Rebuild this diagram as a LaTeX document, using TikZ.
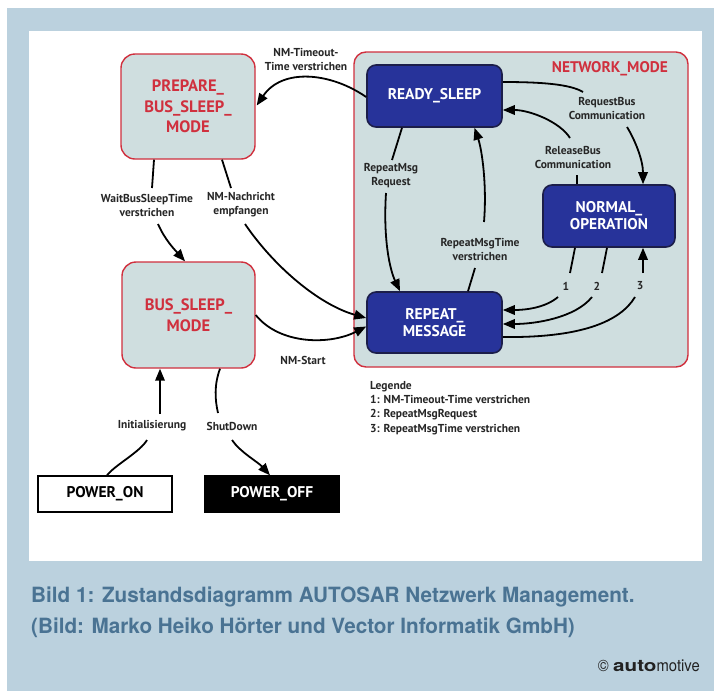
\documentclass[tikz,border=0pt]{standalone}
\usepackage{fontspec}
\usetikzlibrary{arrows.meta,calc}
\setmainfont{PT Sans}
\newfontfamily\capfont{TeX Gyre Heros}[FakeStretch=0.985]
\newfontfamily\brandbold{TeX Gyre Heros}[FakeStretch=1.25]
\newfontfamily\brandlight{TeX Gyre Heros}[FakeStretch=0.9]
\definecolor{frameblue}{HTML}{BBD1DE}
\definecolor{captionblue}{HTML}{4A7393}
\definecolor{statefill}{HTML}{CFDEDF}
\definecolor{statered}{HTML}{D0303E}
\definecolor{navy}{HTML}{27339A}
\definecolor{navyedge}{HTML}{1C1E4A}
\definecolor{brandgrey}{HTML}{222222}
\begin{document}
\begin{tikzpicture}[x=1pt,y=-1pt,
  outerstate/.style={draw=statered, line width=1.4pt, fill=statefill, rounded corners=14pt,
    text=statered, font=\bfseries\fontsize{16.5}{20.5}\selectfont, align=center, inner sep=0pt},
  innerstate/.style={draw=navyedge, line width=1.6pt, fill=navy, rounded corners=9pt,
    text=white, font=\bfseries\fontsize{15.5}{17}\selectfont, align=center, inner sep=0pt,
    minimum width=135pt, minimum height=62pt},
  powerbox/.style={draw=black, line width=1.4pt, minimum width=134pt, minimum height=36pt,
    inner sep=0pt, font=\bfseries\fontsize{15.5}{17}\selectfont},
  trans/.style={line width=1.8pt, draw=black},
  tip/.style={-{Triangle[length=12pt,width=9.5pt]}},
  lbl/.style={font=\bfseries\fontsize{11.5}{14}\selectfont, align=center, inner sep=0pt, text=black!85},
]
% page, frame and white panel
\useasboundingbox (0,0) rectangle (714,691);
\fill[white] (0,0) rectangle (714,691);
\fill[frameblue] (7,8) rectangle (714,691);
\fill[white] (29,31) rectangle (702,561);

% network mode container
\node[draw=statered, line width=1.4pt, fill=statefill, rounded corners=12pt,
      minimum width=334pt, minimum height=315pt, inner sep=0pt] (nm) at (521,209.5) {};
\node[text=statered, font=\bfseries\fontsize{15.4}{17}\selectfont, anchor=east, inner sep=0pt] (nmlabel) at (668,69) {NETWORK\_MODE};

% states
\node[outerstate, minimum width=134pt, minimum height=105pt] (pb) at (188,106.5) {PREPARE\_\\BUS\_SLEEP\_\\MODE};
\node[outerstate, minimum width=133pt, minimum height=106pt] (bs) at (188.5,315) {BUS\_SLEEP\_\\MODE};
\node[innerstate] (rs) at (434.5,96) {READY\_SLEEP};
\node[innerstate, minimum width=132pt] (no) at (609,216) {NORMAL\_\\OPERATION};
\node[innerstate, minimum height=61pt] (rm) at (434.5,322.5) {REPEAT\_\\MESSAGE};
\node[powerbox, fill=white] (pon) at (105,494) {POWER\_ON};
\node[powerbox, fill=black, text=white] (poff) at (272,494) {POWER\_OFF};

% transition labels
\node[lbl] (l1) at (306,59) {NM-Timeout-\\Time verstrichen};
\node[lbl] (l2) at (147,205) {WaitBusSleepTime\\verstrichen};
\node[lbl] (l3) at (241,205) {NM-Nachricht\\empfangen};
\node[lbl] (l4) at (303,360) {NM-Start};
\node[lbl] (l5) at (152,426) {Initialisierung};
\node[lbl] (l6) at (232,426) {ShutDown};
\node[lbl] (l7) at (607,108.5) {RequestBus\\Communication};
\node[lbl] (l8) at (573,157) {ReleaseBus\\Communication};
\node[lbl] (l9) at (391,175.5) {RepeatMsg\\Request};
\node[lbl] (l10) at (480,249) {RepeatMsgTime\\verstrichen};
\node[lbl] (n1) at (566,286) {1};
\node[lbl] (n2) at (597,286) {2};
\node[lbl] (n3) at (640,286) {3};

% break points of the transitions around their labels
\coordinate (c2a) at (152,188);  \coordinate (c2b) at (158,224);
\coordinate (c3a) at (231,188);  \coordinate (c3b) at (245,224);
\coordinate (c5a) at (147,440);  \coordinate (c5b) at (160,414);
\coordinate (c6a) at (218,413);  \coordinate (c6b) at (232,440);
\coordinate (c7a) at (583,92);   \coordinate (c7b) at (627,127);
\coordinate (c8a) at (577,175);  \coordinate (c8b) at (570,138);
\coordinate (c9a) at (392,160);  \coordinate (c9b) at (386,193);
\coordinate (c10a) at (475,268); \coordinate (c10b) at (484,222);
\coordinate (c11a) at (570,273); \coordinate (c11b) at (558,297);
\coordinate (c12a) at (602,273); \coordinate (c12b) at (592,297);
\coordinate (c13a) at (635,297); \coordinate (c13b) at (643,273);

% transitions
\draw[trans,tip] ($(rs.west)+(0,1)$) .. controls (330,72) and (282,68) .. ($(pb.east)+(1,-1)$);
\draw[trans] ($(pb.south)+(-34,0)$) -- (c2a);
\draw[trans,tip] (c2b) .. controls (165,240) and (175,250) .. ($(bs.north)+(-3.5,0)$);
\draw[trans] ($(pb.south)+(34,0)$) -- (c3a);
\draw[trans,tip] (c3b) .. controls (275,268) and (320,305) .. ($(rm.west)+(0,-4.5)$);
\draw[trans,tip] ($(bs.east)+(0,0)$) .. controls (280,345) and (330,345) .. ($(rm.west)+(0,4)$);
\draw[trans] ($(pon.north)+(2,0)$) .. controls (115,465) and (140,452) .. (c5a);
\draw[trans,tip] (c5b) -- ($(bs.south)+(-28.5,0)$);
\draw[trans] ($(bs.south)+(31.5,0)$) .. controls (214,385) and (215,400) .. (c6a);
\draw[trans,tip] (c6b) .. controls (240,452) and (258,462) .. ($(poff.north)+(-2,0)$);
\draw[trans] ($(rs.east)+(0,-14)$) .. controls (540,82) and (570,84) .. (c7a);
\draw[trans,tip] (c7b) .. controls (635,140) and (643,160) .. ($(no.north)+(34,0)$);
\draw[trans] ($(no.north)+(-32,0)$) -- (c8a);
\draw[trans,tip] (c8b) .. controls (560,122) and (530,110) .. ($(rs.east)+(0,14)$);
\draw[trans] ($(rs.south)+(-32.5,0)$) -- (c9a);
\draw[trans,tip] (c9b) .. controls (383,240) and (390,270) .. ($(rm.north)+(-34.5,0)$);
\draw[trans] ($(rm.north)+(33.5,0)$) -- (c10a);
\draw[trans,tip] (c10b) .. controls (487,185) and (482,150) .. ($(rs.south)+(40,0)$);
\draw[trans] ($(no.south)+(-34,0)$) -- (c11a);
\draw[trans,tip] (c11b) .. controls (545,308) and (525,310) .. ($(rm.east)+(0,-12.5)$);
\draw[trans] ($(no.south)+(-2,0)$) -- (c12a);
\draw[trans,tip] (c12b) .. controls (575,318) and (535,324) .. ($(rm.east)+(0,1.5)$);
\draw[trans] ($(rm.east)+(0,14.5)$) .. controls (580,338) and (620,322) .. (c13a);
\draw[trans,tip] (c13b) -- ($(no.south)+(34,0)$);

% legend
\node[anchor=base west, align=left, inner sep=0pt, text=black!85,
      font=\bfseries\fontsize{11.5}{14.3}\selectfont] (legend) at (370,432)
  {Legende\\1: NM-Timeout-Time verstrichen\\2: RepeatMsgRequest\\3: RepeatMsgTime verstrichen};

% caption and credit
\node[anchor=base west, inner sep=0pt, text=captionblue, font=\capfont\bfseries\fontsize{21}{24}\selectfont] (cap1) at (31,602)
  {Bild 1: Zustandsdiagramm AUTOSAR Netzwerk Management.};
\node[anchor=base west, inner sep=0pt, text=captionblue, font=\capfont\bfseries\fontsize{21}{24}\selectfont] (cap2) at (31,633)
  {(Bild: Marko Heiko Hörter und Vector Informatik GmbH)};
\node[anchor=base east, inner sep=0pt, text=brandgrey, font=\fontsize{16.5}{18}\selectfont] (brand) at (700,671)
  {{\brandlight ©} {\brandbold\bfseries auto}{\brandlight motive}};
\end{tikzpicture}
\end{document}
